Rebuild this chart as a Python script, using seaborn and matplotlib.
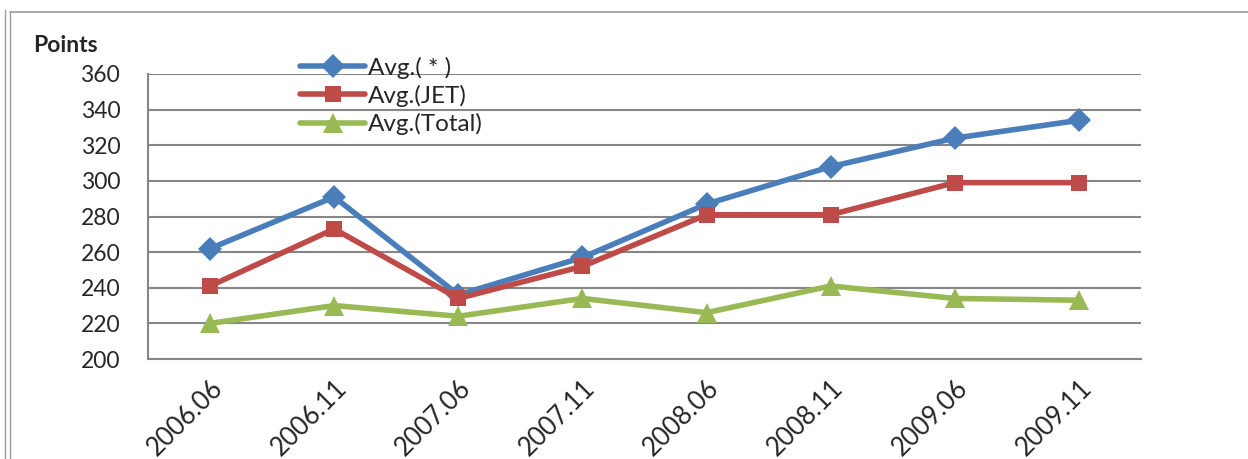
import pandas as pd
import matplotlib
matplotlib.use("Agg")
import matplotlib.pyplot as plt
from matplotlib.lines import Line2D
import seaborn as sns

# Data
periods = ['2006.06', '2006.11', '2007.06', '2007.11', '2008.06', '2008.11', '2009.06', '2009.11']
avg_star = [262, 291, 236, 257, 287, 308, 324, 334]
avg_jet = [241, 273, 234, 252, 281, 281, 299, 299]
avg_total = [220, 230, 224, 234, 226, 241, 234, 233]
series_names = ['Avg.( * )', 'Avg.(JET)', 'Avg.(Total)']
y_ticks = [200, 220, 240, 260, 280, 300, 320, 340, 360]

colors = {'Avg.( * )': '#4A7EBB', 'Avg.(JET)': '#BE4B48', 'Avg.(Total)': '#98B954'}
markers = {'Avg.( * )': 'D', 'Avg.(JET)': 's', 'Avg.(Total)': '^'}
msizes = {'D': 12, 's': 12, '^': 14}

# Long table for seaborn
rows = []
for name, vals in zip(series_names, [avg_star, avg_jet, avg_total]):
    for i, (p, v) in enumerate(zip(periods, vals)):
        rows.append({'pos': i, 'period': p, 'value': v, 'series': name})
df = pd.DataFrame(rows)

sns.set_style('white')
plt.rcParams['font.family'] = ['Lato', 'DejaVu Sans']

fig = plt.figure(figsize=(12.48, 4.59), dpi=100)
ax = fig.add_axes([148 / 1248, 1 - 359 / 459, (1141 - 148) / 1248, (359 - 74) / 459])

sns.lineplot(data=df, x='pos', y='value', hue='series', style='series',
             palette=colors, markers=markers, dashes=False, linewidth=4.0,
             markersize=12, markeredgewidth=0, legend=False, ax=ax, zorder=3)
for line in ax.lines:
    m = line.get_marker()
    if m in msizes:
        line.set_markersize(msizes[m])

ax.set_xlim(-0.5, len(periods) - 0.5)
ax.set_ylim(200, 360)
ax.set_yticks(y_ticks)
ax.set_yticklabels([str(t) for t in y_ticks], fontsize=16.5)
ax.set_xticks(range(len(periods)))
ax.set_xticklabels(periods, rotation=45, ha='right', rotation_mode='anchor', fontsize=18.5)
ax.set_xticks([i - 0.5 for i in range(len(periods) + 1)], minor=True)
ax.tick_params(axis='x', which='major', length=0, pad=12)
ax.tick_params(axis='x', which='minor', length=7, direction='in', color='#868686', width=1.5)
ax.tick_params(axis='y', length=0, pad=20)
ax.set_xlabel('')
ax.set_ylabel('')

ax.yaxis.grid(True, color='#868686', linewidth=1.5)
ax.set_axisbelow(True)
for side in ['top', 'right']:
    ax.spines[side].set_visible(False)
for side in ['left', 'bottom']:
    ax.spines[side].set_color('#868686')
    ax.spines[side].set_linewidth(1.5)

fig.text(33 / 1248, 1 - 45 / 459, 'Points', fontsize=16.5, fontweight='bold', va='center', ha='left')

handles = [Line2D([0], [0], color=colors[n], marker=markers[n], linewidth=4.0,
                  markersize=msizes[markers[n]], markeredgewidth=0)
           for n in series_names]
fig.legend(handles, series_names, loc='upper left', bbox_to_anchor=(290 / 1248, 1 - 47 / 459),
           frameon=False, fontsize=17.5, handlelength=2.7, handletextpad=0.1,
           labelspacing=0.25, borderaxespad=0)

# outer frame like the source document
frame_color = '#9A9A9A'
fig.add_artist(Line2D([5 / 1248, 5 / 1248], [0, 1 - 10 / 459], transform=fig.transFigure, color=frame_color, lw=1))
fig.add_artist(Line2D([10 / 1248, 10 / 1248], [0, 1 - 12 / 459], transform=fig.transFigure, color=frame_color, lw=1))
fig.add_artist(Line2D([10 / 1248, 1], [1 - 12 / 459, 1 - 12 / 459], transform=fig.transFigure, color=frame_color, lw=1.2))

fig.savefig('out.png', dpi=100)
